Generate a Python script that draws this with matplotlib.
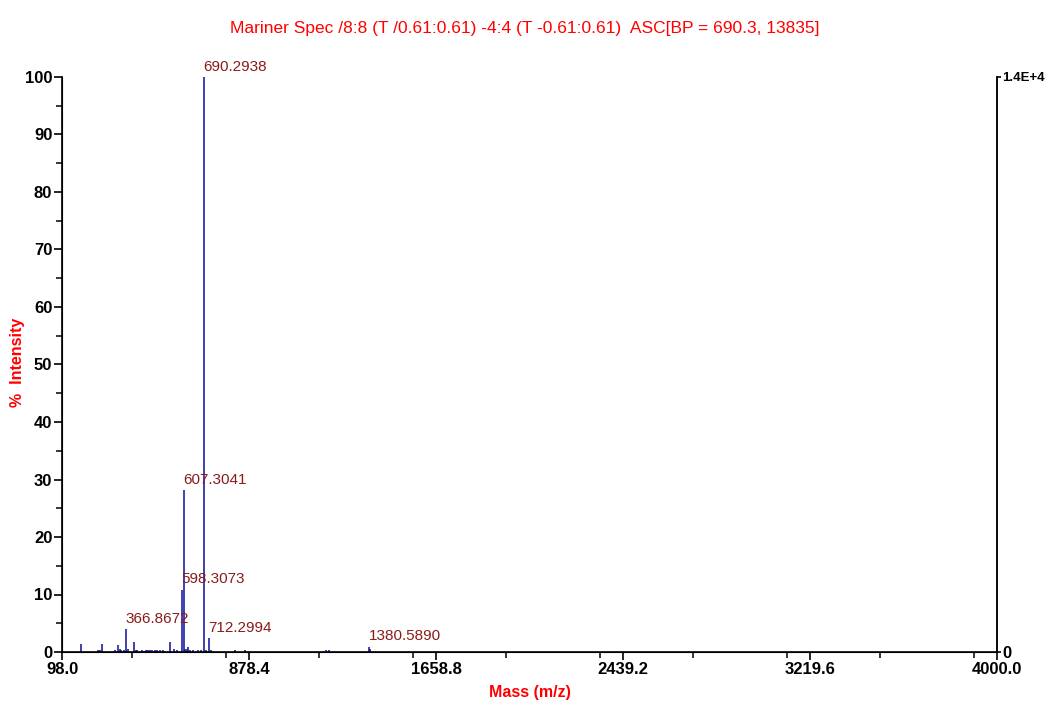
import matplotlib
matplotlib.use("Agg")
import matplotlib.pyplot as plt
from matplotlib.ticker import MultipleLocator

plt.rcParams['font.family'] = ['Liberation Sans Narrow', 'Liberation Sans', 'DejaVu Sans']

# peak list (m/z, % intensity)
mass = [176, 247, 256, 266, 318, 330, 338, 346, 355, 366.8672, 375, 398, 405, 412,
        430, 440, 450, 458, 466, 475, 485, 495, 505, 520, 549, 567, 580,
        598.3073, 607.3041, 612, 618, 624, 632, 645, 665, 680, 690.2938, 700,
        712.2994, 720, 820, 862, 1200, 1213, 1380.5890, 1384]
inten = [1.4, 0.3, 0.4, 1.4, 0.4, 1.3, 0.5, 0.4, 0.3, 4.0, 0.5, 1.8, 0.4, 0.3,
         0.3, 0.2, 0.3, 0.3, 0.3, 0.3, 0.3, 0.3, 0.4, 0.3, 1.8, 0.6, 0.4,
         10.8, 28.1, 0.5, 0.6, 0.8, 0.4, 0.3, 0.4, 0.3, 100.0, 0.4,
         2.4, 0.4, 0.3, 0.3, 0.3, 0.3, 0.9, 0.6]

labelled = [690.2938, 607.3041, 598.3073, 366.8672, 712.2994, 1380.5890]
label_int = [100.0, 28.1, 10.8, 4.0, 2.4, 0.9]

xticks = [98.0, 878.4, 1658.8, 2439.2, 3219.6, 4000.0]

fig = plt.figure(figsize=(10.47, 7.02), dpi=100)
ax = fig.add_axes([62/1047, 50/702, 935/1047, 575/702])

peak_col = '#0c0c9c'
ax.vlines(mass, 0, inten, color=peak_col, linewidth=1.1)

for m, h in zip(labelled, label_int):
    ax.text(m - 2, h + 0.6, f"{m:.4f}", color='#8b1a1a', fontsize=11,
            ha='left', va='bottom')

ax.set_xlim(98, 4000)
ax.set_ylim(0, 100)
ax.set_xticks(xticks)
ax.set_xticklabels([f"{t:.1f}" for t in xticks])
ax.xaxis.set_minor_locator(MultipleLocator(390.2))
ax.set_yticks(range(0, 101, 10))
ax.yaxis.set_minor_locator(MultipleLocator(5))

ax.spines['top'].set_visible(False)
for s in ['left', 'bottom', 'right']:
    ax.spines[s].set_linewidth(1.2)
ax.spines['right'].set_color('#333333')

ax.tick_params(axis='both', which='major', direction='out', length=6, width=1.2,
               labelsize=12, pad=1)
ax.tick_params(axis='both', which='minor', direction='out', length=4, width=1.1)
for lab in ax.get_xticklabels() + ax.get_yticklabels():
    lab.set_fontweight('bold')

# right-hand absolute intensity axis
ax2 = ax.twinx()
ax2.set_ylim(0, 100)
ax2.set_yticks([0, 100])
ax2.set_yticklabels(['0', '1.4E+4'], fontweight='bold')
ax2.tick_params(axis='y', direction='out', length=3, width=1.2, pad=1)
rl = ax2.get_yticklabels()
rl[0].set_fontsize(12)
rl[1].set_fontsize(9.5)
ax2.spines['top'].set_visible(False)
ax2.spines['right'].set_linewidth(1.2)

fig.text(525/1047, 1 - 28/702, "Mariner Spec /8:8 (T /0.61:0.61) -4:4 (T -0.61:0.61)  ASC[BP = 690.3, 13835]",
         color='#ff0000', fontsize=12.5, ha='center', va='center')
fig.text(530/1047, 1 - 692/702, "Mass (m/z)", color='#ff0000', fontsize=11.5,
         fontweight='bold', ha='center', va='center')
fig.text(18/1047, 1 - 362/702, "%  Intensity", color='#ff0000', fontsize=11.5,
         fontweight='bold', ha='center', va='center', rotation=90)

fig.savefig("out.png", dpi=100)
